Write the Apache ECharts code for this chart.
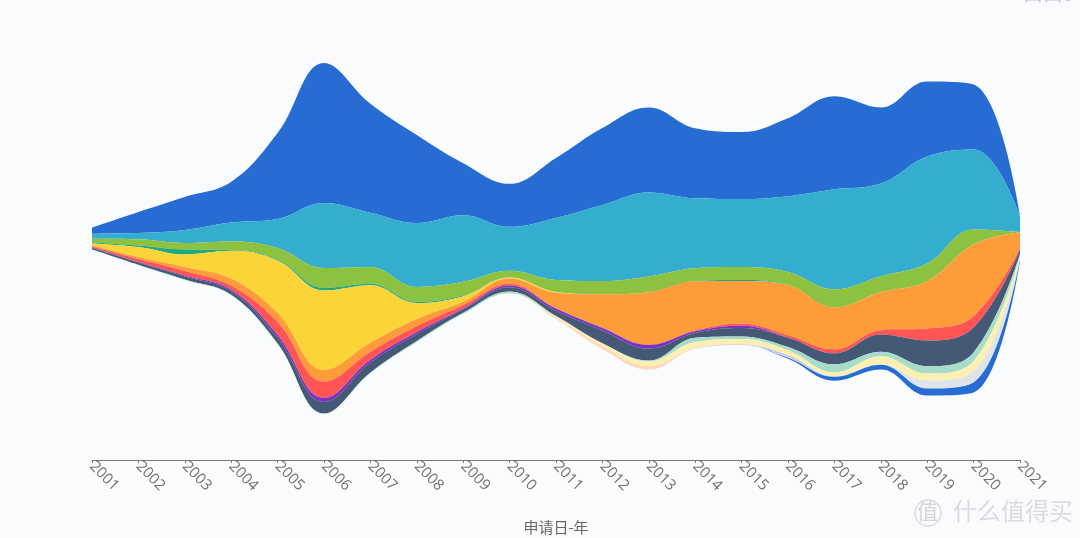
<!DOCTYPE html>
<html>
<head>
<meta charset="utf-8">
<style>html,body{margin:0;padding:0;background:#fafbfd;overflow:hidden}#c{width:1080px;height:538px}</style>
<script src="https://cdn.jsdelivr.net/npm/echarts@6/dist/echarts.min.js"></script>
</head>
<body>
<div id="c"></div>
<script>
const years = [2001,2002,2003,2004,2005,2006,2007,2008,2009,2010,2011,2012,2013,2014,2015,2016,2017,2018,2019,2020,2021];
const seriesA = [6,21,33,40.7,86,140,109,88,52,43,60,77,85,70,67,78,93,76,75,65,0.5];
const seriesB = [5,6.3,13,19,29,65,54.5,64,66.7,44,62,76,84,70,68,75.7,100,92.7,107,80,15.5];
const seriesC = [3.5,6.2,6.5,8.3,11.5,20,16.5,14.7,13.3,6.3,11.7,13,15.7,12.7,13,13,18,16,17.7,15,0.3];
const seriesD = [1.3,1.5,5,1,1,2.5,1.5,1.3,1,0.4,0.2,0.1,0,0.3,1,0.3,0,0,0,0,0];
const seriesE = [1.7,10,12.5,28,52.5,79.5,57.5,16,5.7,1,0.8,0.1,0,0,0,0,0,0,0,0,0];
const seriesF = [1.3,2,4,7,9,11.7,9,7,3.3,5.3,15.6,33.3,52.3,49,42.3,50,42,38,47.3,71.7,16];
const seriesG = [1,3,4.5,4,13,16.3,8,6,3.3,1.7,0.3,0.4,0.5,1,2.4,2.3,4,4.3,12,11.3,1.7];
const seriesH = [0.3,0.5,1,1.5,3,4,2.7,2,1,1.6,2.2,2.4,3.5,1.7,2.3,0.1,0,0,0,0,0];
const seriesI = [1.4,2.2,3,3.5,5.5,11.5,10,7,3.4,4.4,5.2,12.8,12,4.6,8.3,9.3,11,17.3,25.7,25,4];
const seriesJ = [0.2,0.3,0.5,0.3,0.5,0.5,0.8,1,1,1.6,0.5,0.3,1,4.4,2.7,3.3,8,4.4,7.3,8.7,2];
const seriesK = [0,0,0,0,0,0,0,0,0,0,0.7,2.5,4.7,6,5,5,3.7,8.3,7,10,2];
const seriesL = [0,0,0,0,0,0,0,0,0,0,1.8,2.9,3.3,0.6,0.5,0,0,0,0,0,0];
const seriesM = [0,0,0,0,0,0,0,0,0,0,0,0,0,0,0.3,2,0.3,0,0,0,0];
const seriesN = [0,0,0,0,0,0,0,0,0,0,0,0,0,0,0,0.5,0.5,0.3,8,11.3,1.5];
const seriesO = [0,0,0,0,0,0,0,0,0,0,0,0,0,0,0,1,3.8,4.7,7,10,1.5];

const layerNames = ['A','B','C','D','E','F','G','H','I','J','K','L','M','N','O'];
const layerValues = [seriesA,seriesB,seriesC,seriesD,seriesE,seriesF,seriesG,seriesH,seriesI,seriesJ,seriesK,seriesL,seriesM,seriesN,seriesO];
const palette = ['#266cd3','#35adce','#8cc240','#1fa97c','#fbd437','#ff9c3a','#ff5555','#7a33c0','#455875','#a6dcc8','#fbefb1','#ffd8b8','#c9c4ea','#dee4ea','#266cd3'];

const riverData = [];
layerNames.forEach((n, l) => years.forEach((y, i) => riverData.push([y, layerValues[l][i], n])));

const chart = echarts.init(document.getElementById('c'));
chart.setOption({
  backgroundColor: '#fafbfd',
  animation: false,
  color: palette,
  singleAxis: {
    type: 'value',
    min: 2001, max: 2021, interval: 1,
    left: 92, right: 60, top: 17, height: 443,
    axisLine: {show: true, lineStyle: {color: '#777', width: 1}},
    axisTick: {show: true, length: 3, lineStyle: {color: '#777'}},
    splitLine: {show: false},
    axisLabel: {rotate: -45, margin: 4, fontSize: 15, color: '#707070', fontFamily: 'Open Sans', formatter: v => String(v), hideOverlap: false, showMinLabel: true, showMaxLabel: true},
    name: '申请日-年',
    nameLocation: 'middle',
    nameGap: 60,
    nameTextStyle: {fontSize: 15, color: '#666', fontFamily: 'Noto Sans CJK SC'}
  },
  series: [{
    type: 'themeRiver',
    boundaryGap: [46, 46],
    label: {show: false},
    emphasis: {disabled: true},
    data: riverData
  }],
  graphic: [
    {type: 'text', left: 953, top: 499, style: {text: '什么值得买', fontSize: 24, fill: '#d9dbde', fontFamily: 'Noto Sans CJK SC'}, silent: true},
    {type: 'circle', shape: {cx: 928, cy: 513, r: 13}, style: {fill: 'none', stroke: '#d9dbde', lineWidth: 1.5}, silent: true},
    {type: 'text', left: 917, top: 501, style: {text: '值', fontSize: 21, fill: '#d2d4d7', fontFamily: 'Noto Sans CJK SC'}, silent: true},
    {type: 'text', left: 1023, top: -17, style: {text: '口口5', fontSize: 20, fill: '#c2c4c7', fontFamily: 'Noto Sans CJK SC'}, silent: true}
  ]
});
</script>
</body>
</html>
